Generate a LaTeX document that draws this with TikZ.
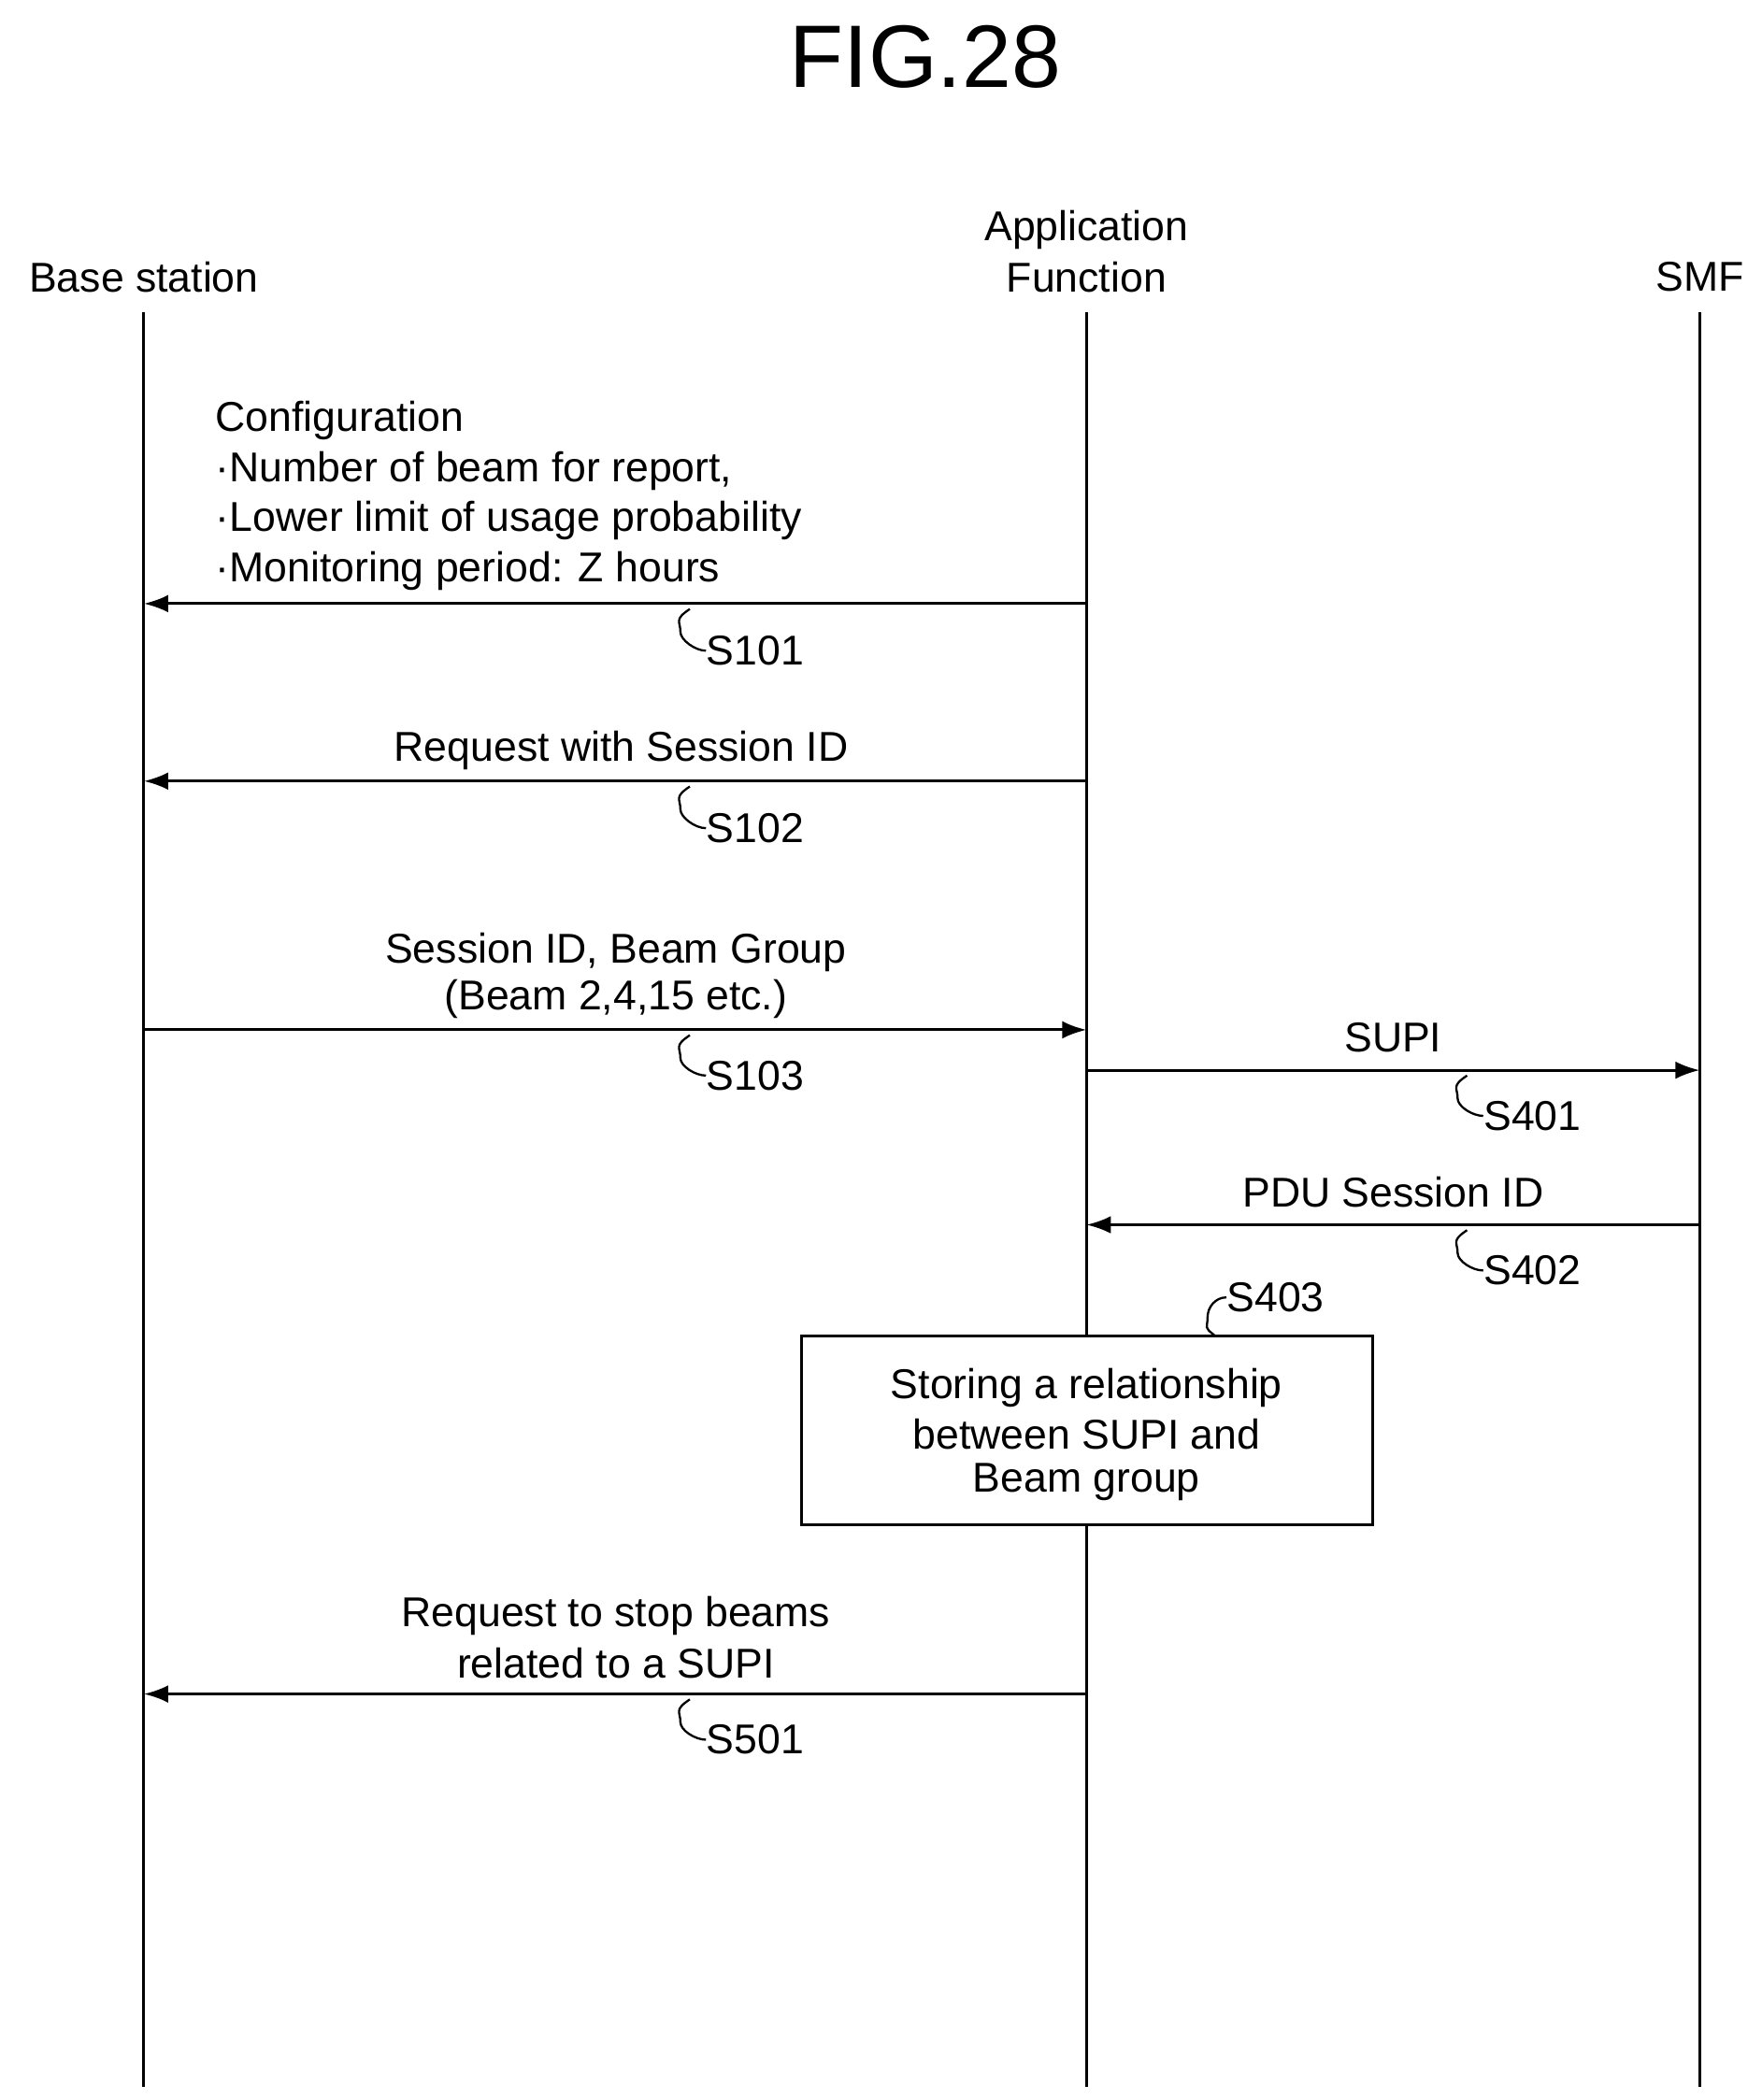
\documentclass[tikz,border=0pt]{standalone}
\usepackage{fontspec}
\setmainfont{Liberation Sans}
\usetikzlibrary{arrows.meta}
\begin{document}
\begin{tikzpicture}[x=0.5pt,y=-0.5pt,
  txt/.style={font=\fontsize{15.5}{18}\selectfont, inner sep=0pt},
  life/.style={line width=1pt},
  msg/.style={line width=1pt,-{Latex[length=9pt,width=6.5pt]}},
  sq/.style={line width=0.8pt}]
\useasboundingbox (0,0) rectangle (1310,1562);
\node[font=\fontsize{33}{36}\selectfont] (title) at (688,42) {FIG.28};
\node[txt] (bs) at (107,206) {Base station};
\node[txt] (af1) at (808,171) {Application};
\node[txt] (af) at (808,206) {Function};
\node[txt] (smf) at (1264,206) {SMF};
\coordinate (bsT) at (107,232); \coordinate (bsB) at (107,1552);
\coordinate (afT) at (808,232); \coordinate (afB) at (808,1552);
\coordinate (smT) at (1264,232); \coordinate (smB) at (1264,1552);
\draw[life] (bsT) -- (bsB);
\draw[life] (afT) -- (afB);
\draw[life] (smT) -- (smB);
% S101
\node[txt,anchor=west] (c0) at (160,313) {Configuration};
\node[txt,anchor=west] (c1) at (160,350) {·Number of beam for report,};
\node[txt,anchor=west] (c2) at (160,387) {·Lower limit of usage probability};
\node[txt,anchor=west] (c3) at (160,425) {·Monitoring period: Z hours};
\coordinate (a1s) at (808,449); \coordinate (a1e) at (107,449);
\draw[msg] (a1s) -- (a1e);
\newcommand\mysq[3]{\draw[sq] (#1,#2) .. controls +(-12,8) and +(0,-8) .. +(-7,17) .. controls +(0,6) and +(-8,0) .. (#3.west);}
\node[txt,anchor=west] (l1) at (525,484) {S101};
\mysq{513}{453}{l1}
% S102
\node[txt] (t2) at (462,558) {Request with Session ID};
\coordinate (a2s) at (808,581); \coordinate (a2e) at (107,581);
\draw[msg] (a2s) -- (a2e);
\node[txt,anchor=west] (l2) at (525,616) {S102};
\mysq{513}{585}{l2}
% S103
\node[txt] (t3a) at (458,708) {Session ID, Beam Group};
\node[txt] (t3b) at (458,743) {(Beam 2,4,15 etc.)};
\coordinate (a3s) at (107,766); \coordinate (a3e) at (808,766);
\draw[msg] (a3s) -- (a3e);
\node[txt,anchor=west] (l3) at (525,800) {S103};
\mysq{513}{770}{l3}
% S401
\node[txt] (t4) at (1036,772) {SUPI};
\coordinate (a4s) at (808,796); \coordinate (a4e) at (1264,796);
\draw[msg] (a4s) -- (a4e);
\node[txt,anchor=west] (l4) at (1103,830) {S401};
\mysq{1091}{800}{l4}
% S402
\node[txt] (t5) at (1036,887) {PDU Session ID};
\coordinate (a5s) at (1264,911); \coordinate (a5e) at (808,911);
\draw[msg] (a5s) -- (a5e);
\node[txt,anchor=west] (l5) at (1103,945) {S402};
\mysq{1091}{915}{l5}
% S403 box
\node[draw,line width=1pt,fill=white,minimum width=212.5pt,minimum height=70pt,inner sep=0pt] (box) at (808.5,1064) {};
\node[txt] at (808,1032) {Storing a relationship};
\node[txt] at (808,1067) {between SUPI and};
\node[txt] at (808,1102) {Beam group};
\node[txt,anchor=west] (l6) at (912,965) {S403};
\draw[sq] (903,993) .. controls +(-8,-6) and +(0,8) .. (898,980) .. controls +(0,-8) and +(-8,0) .. (l6.west);
% S501
\node[txt] (t7a) at (458,1202) {Request to stop beams};
\node[txt] (t7b) at (458,1237) {related to a SUPI};
\coordinate (a7s) at (808,1260); \coordinate (a7e) at (107,1260);
\draw[msg] (a7s) -- (a7e);
\node[txt,anchor=west] (l7) at (525,1294) {S501};
\mysq{513}{1264}{l7}
\end{tikzpicture}
\end{document}
